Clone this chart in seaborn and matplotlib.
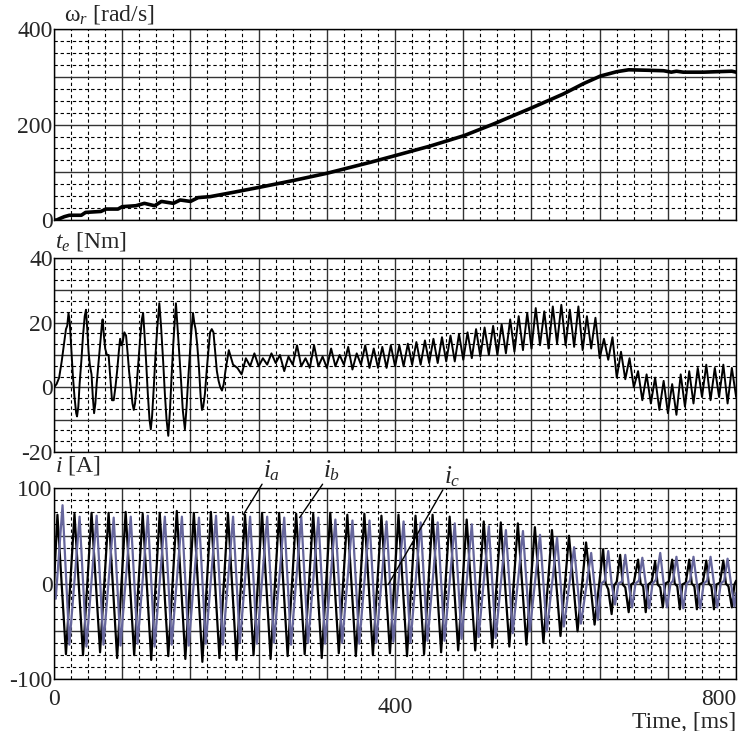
import numpy as np
import pandas as pd
import seaborn as sns
import matplotlib.pyplot as plt
import matplotlib.transforms as mtransforms
from matplotlib.ticker import MultipleLocator, AutoMinorLocator, FuncFormatter

sns.set_style("white")
plt.rcParams['font.family'] = ['Liberation Serif', 'DejaVu Serif']
plt.rcParams['mathtext.fontset'] = 'custom'
plt.rcParams['mathtext.rm'] = 'Liberation Serif'
plt.rcParams['mathtext.it'] = 'Liberation Serif:italic'

# rotor speed [rad/s] vs time [ms]
wr_t = [0, 3, 8, 12, 18, 32, 37, 55, 61, 75, 80, 96, 106, 118, 126, 140, 148, 160, 169, 183,
        210, 242, 281, 320, 371, 400, 441, 481, 515, 560, 597, 621, 641, 660, 674, 696, 715, 724,
        730, 738, 762, 778, 795, 800]
wr_v = [0, 0, 4, 7, 10, 10, 16, 18, 23, 23, 28, 30, 35, 30, 39, 35, 42, 39, 47, 49,
        58, 69, 83, 98, 121, 135, 155, 177, 201, 235, 264, 286, 302, 311, 315, 314, 313, 310,
        312, 310, 310, 311, 312, 310]

# electromagnetic torque [Nm]: start-up transient
te_t0 = [0, 3, 6, 9, 12, 14, 15.5, 17, 18.5, 20, 22, 24, 26, 27, 28.5, 30, 32, 34, 36, 37.5,
         39, 40.5, 42, 44, 45.5, 47, 48.5, 50, 52, 54, 56, 57, 58.5, 60, 62, 64, 66, 68, 70, 72,
         74, 76, 77.5, 79, 80.5, 82.5, 84.5, 86.5, 88, 90, 92, 93.5, 95, 97, 99, 101, 103, 104.5,
         106, 108, 110, 112, 113.5, 115, 117, 119, 121, 123.5, 125.5, 128, 130, 132, 134, 136,
         138, 140, 141.5, 143, 145, 147, 149, 151, 153.5, 155.5, 157, 159, 161, 163, 164.5, 166,
         168, 170, 172, 173.5, 175, 177, 179, 181, 183, 185, 187, 189, 191, 193, 195, 197, 199,
         201]
te_v0 = [0, 1, 3, 8, 14, 18, 19, 23, 20, 13, 4, -3, -8, -9, -6, 1, 8, 16, 22, 24,
         18, 11, 7, 4, -3, -8, -5, 1, 7, 13, 19, 21, 16, 12, 10, 10, 3, -4, -4, 0,
         5, 11, 15, 13, 14, 17, 16, 10, 5, 0, -5, -7, -5, 1, 8, 15, 21, 23,
         17, 8, -2, -10, -13, -9, 0, 10, 18, 26, 19, 8, -2, -10, -15, -7,
         4, 14, 20, 26, 18, 10, 2, -7, -13, -6, 1, 9, 17, 23, 20, 18,
         13, 6, -3, -7, -6, -2, 5, 11, 17, 18, 17, 11, 5, 2, 0, -1, 1,
         5]
# torque ripple, sampled every 5 ms from 205 ms
te_step = 5
te_start = 205
te_ripple = [11.5, 7, 6, 4, 9, 6.5, 10.5, 6.5, 9, 7, 10.5, 7.5, 10, 5, 9.5, 7, 13, 6.5, 9, 6,
             13, 6.5, 9.5, 6, 12, 6.5, 10, 7, 12.5, 5.5, 10.5, 7, 13, 6,
             12, 6, 12.5, 6, 13, 6.5, 13, 6.5, 13.5, 7, 14, 7, 14.5, 7.5, 15, 7.5, 15.5, 8, 16, 8,
             16.5, 8.5, 17, 9, 18, 9.5, 18.5, 10, 19, 10, 19.5, 10.5, 21, 11, 22, 11.5, 23, 12,
             24.5, 13, 23.5, 12, 25, 13.5, 25.5, 13, 24, 12.5, 25, 11.5, 22, 12, 21.5, 9, 15, 8.5,
             15.5, 3, 11, 2.5, 9, 0, 5, -4, 4, -5, 3, -7, 2, -8, 1, -8.5, 4, -6, 5, -5, 6, -3,
             7, -4, 6, -3, 7, -5, 6, -3]

# phase current i_a [A]: peaks every 20 ms from 4 ms, troughs from 14 ms
ia_peak_v = [72, 73, 74, 74, 75, 73, 74, 76, 74, 75, 73, 72, 74, 74, 73, 73, 74, 72, 73, 71,
             72, 71, 72, 70, 67, 65, 64, 63, 59, 56, 50, 43]
ia_trough_v = [-74, -75, -72, -78, -75, -80, -76, -79, -82, -78, -80, -75, -79, -76, -74, -78,
               -73, -76, -75, -73, -76, -74, -72, -70, -70, -67, -66, -64, -62, -55, -50, -43]
ia_tail_t = [644, 647, 650, 654, 657, 660, 664, 667, 670, 674, 677, 680, 685, 688, 691, 694, 697,
             701, 705, 708, 711, 714, 717, 721, 725, 728, 731, 734, 737, 741, 745, 748, 751, 754,
             757, 761, 765, 768, 771, 774, 777, 781, 785, 788, 791, 795, 798, 800]
ia_tail_v = [36, 0, -6, -32, -2, 2, 30, -1, -4, -30, -1, 1, 25, 0, -3, -30, -1,
             2, 23, -1, -4, -25, 0, 2, 25, 0, -3, -27, -1, 1, 25, 0, -3, -27,
             -1, 1, 24, 0, -3, -27, -1, 1, 24, 0, -3, -25, -1, 3]

# phase current i_b [A]: peaks every 20 ms from 10 ms, troughs from 18 ms
ib_peak_v = [82, 70, 71, 69, 70, 71, 70, 70, 69, 71, 70, 70, 70, 69, 70, 69, 67, 66, 66, 65,
             65, 64, 64, 63, 62, 60, 56, 55, 51, 48, 38, 32]
ib_trough_v = [-64, -66, -64, -65, -63, -66, -64, -65, -63, -64, -62, -63, -62, -64, -62, -63,
               -62, -63, -62, -61, -62, -60, -60, -58, -56, -57, -52, -50, -50, -45, -42, -38]
ib_tail_t = [642, 646, 650, 654, 658, 662, 666, 670, 674, 678, 682, 686, 690, 694, 698, 702, 706,
             711, 715, 719, 723, 726, 730, 734, 738, 742, 746, 750, 754, 758, 762, 766, 770, 774,
             778, 782, 786, 790, 794, 798, 800]
ib_tail_v = [0, 3, 34, 0, -22, 0, 2, 30, 0, -25, 0, 3, 27, 0, -26, 0, 4,
             32, 0, -25, 0, 3, 28, 0, -26, 0, 3, 28, 0, -26, 0, 3, 28, 0,
             -25, 0, 3, 26, 0, -24, -10]

speed = pd.DataFrame({'t': wr_t, 'v': wr_v})
te_t = te_t0 + list(te_start + te_step * np.arange(len(te_ripple)))
torque = pd.DataFrame({'t': te_t, 'v': te_v0 + te_ripple})


def phase(first_peak, first_trough, peaks, troughs, start_t, start_v, tail_t, tail_v):
    pt = first_peak + 20 * np.arange(len(peaks))
    tt = first_trough + 20 * np.arange(len(troughs))
    df = pd.DataFrame({'t': np.concatenate([start_t, pt, tt, tail_t]),
                       'v': np.concatenate([start_v, peaks, troughs, tail_v])})
    return df.sort_values('t').reset_index(drop=True)


ia = phase(4, 14, ia_peak_v, ia_trough_v, [0], [0], ia_tail_t, ia_tail_v)
ib = phase(10, 18, ib_peak_v, ib_trough_v, [0, 2], [0, -16], ib_tail_t, ib_tail_v)

fig = plt.figure(figsize=(7.39, 7.31), dpi=100)
ax1 = fig.add_axes([0.0731, 0.699, 0.923, 0.261])
ax2 = fig.add_axes([0.0731, 0.3817, 0.923, 0.2654])
ax3 = fig.add_axes([0.0731, 0.0711, 0.923, 0.2613])

FS = 17


def style(ax, lo, hi, major, nminor, labels):
    ax.set_xlim(0, 800)
    ax.set_ylim(lo, hi)
    ax.xaxis.set_major_locator(MultipleLocator(80))
    ax.xaxis.set_minor_locator(AutoMinorLocator(4))
    ax.yaxis.set_major_locator(MultipleLocator(major))
    ax.yaxis.set_minor_locator(AutoMinorLocator(nminor))
    ax.grid(which='major', color='#333333', lw=1.0, ls='-')
    ax.grid(which='minor', color='black', lw=0.8, ls=(0, (3, 2.5)))
    ax.set_axisbelow(True)
    ax.tick_params(which='both', length=0, labelsize=FS, pad=1)
    ax.yaxis.set_major_formatter(FuncFormatter(
        lambda v, p: f'{int(round(v))}' if int(round(v)) in labels else ''))
    ax.xaxis.set_major_formatter(FuncFormatter(lambda v, p: ''))
    ax.set_xlabel('')
    ax.set_ylabel('')
    for s in ax.spines.values():
        s.set_color('black')
        s.set_linewidth(1.0)


sns.lineplot(data=speed, x='t', y='v', ax=ax1, color='black', lw=2.6, sort=False, estimator=None)
sns.lineplot(data=torque, x='t', y='v', ax=ax2, color='black', lw=1.4, sort=False, estimator=None)
sns.lineplot(data=ia, x='t', y='v', ax=ax3, color='black', lw=1.6, sort=False, estimator=None)
sns.lineplot(data=ib, x='t', y='v', ax=ax3, color='#66669c', lw=1.6, sort=False, estimator=None)

style(ax1, 0, 400, 100, 4, [0, 200, 400])
style(ax2, -20, 40, 10, 3, [-20, 0, 20, 40])
style(ax3, -100, 100, 50, 4, [-100, 0, 100])

ax3.xaxis.set_major_formatter(FuncFormatter(
    lambda v, p: f'{int(round(v))}' if int(round(v)) in (0, 400, 800) else ''))
ax3.tick_params(axis='x', pad=7)
fig.canvas.draw()
for lbl in ax3.get_xticklabels():
    if lbl.get_text() == '800':
        lbl.set_ha('right')
    if lbl.get_text() == '400':
        lbl.set_transform(lbl.get_transform() + mtransforms.ScaledTranslation(0, -0.08, fig.dpi_scale_trans))

ax1.text(0.014, 1.075, 'ω$_r$ [rad/s]', transform=ax1.transAxes, fontsize=FS, va='center')
ax2.text(0.002, 1.085, '$t_e$ [Nm]', transform=ax2.transAxes, fontsize=FS, va='center')
ax3.text(0.002, 1.12, '$i$ [A]', transform=ax3.transAxes, fontsize=FS, va='center')
ax3.text(1.0, -0.225, 'Time, [ms]', transform=ax3.transAxes, fontsize=FS, ha='right', va='center')

leaders = [('$i_a$', (244, 104), (222, 72)),
           ('$i_b$', (315, 104), (288, 69)),
           ('$i_c$', (456, 98), (392, -1))]
for name, start, end in leaders:
    ax3.annotate('', xy=end, xytext=start, annotation_clip=False,
                 arrowprops=dict(arrowstyle='-', lw=1.0, color='black', shrinkA=0, shrinkB=0))
    ax3.text(start[0] + 1, start[1] + 1, name, fontsize=FS + 1, ha='left', va='bottom')

fig.savefig('out.png', dpi=100)
